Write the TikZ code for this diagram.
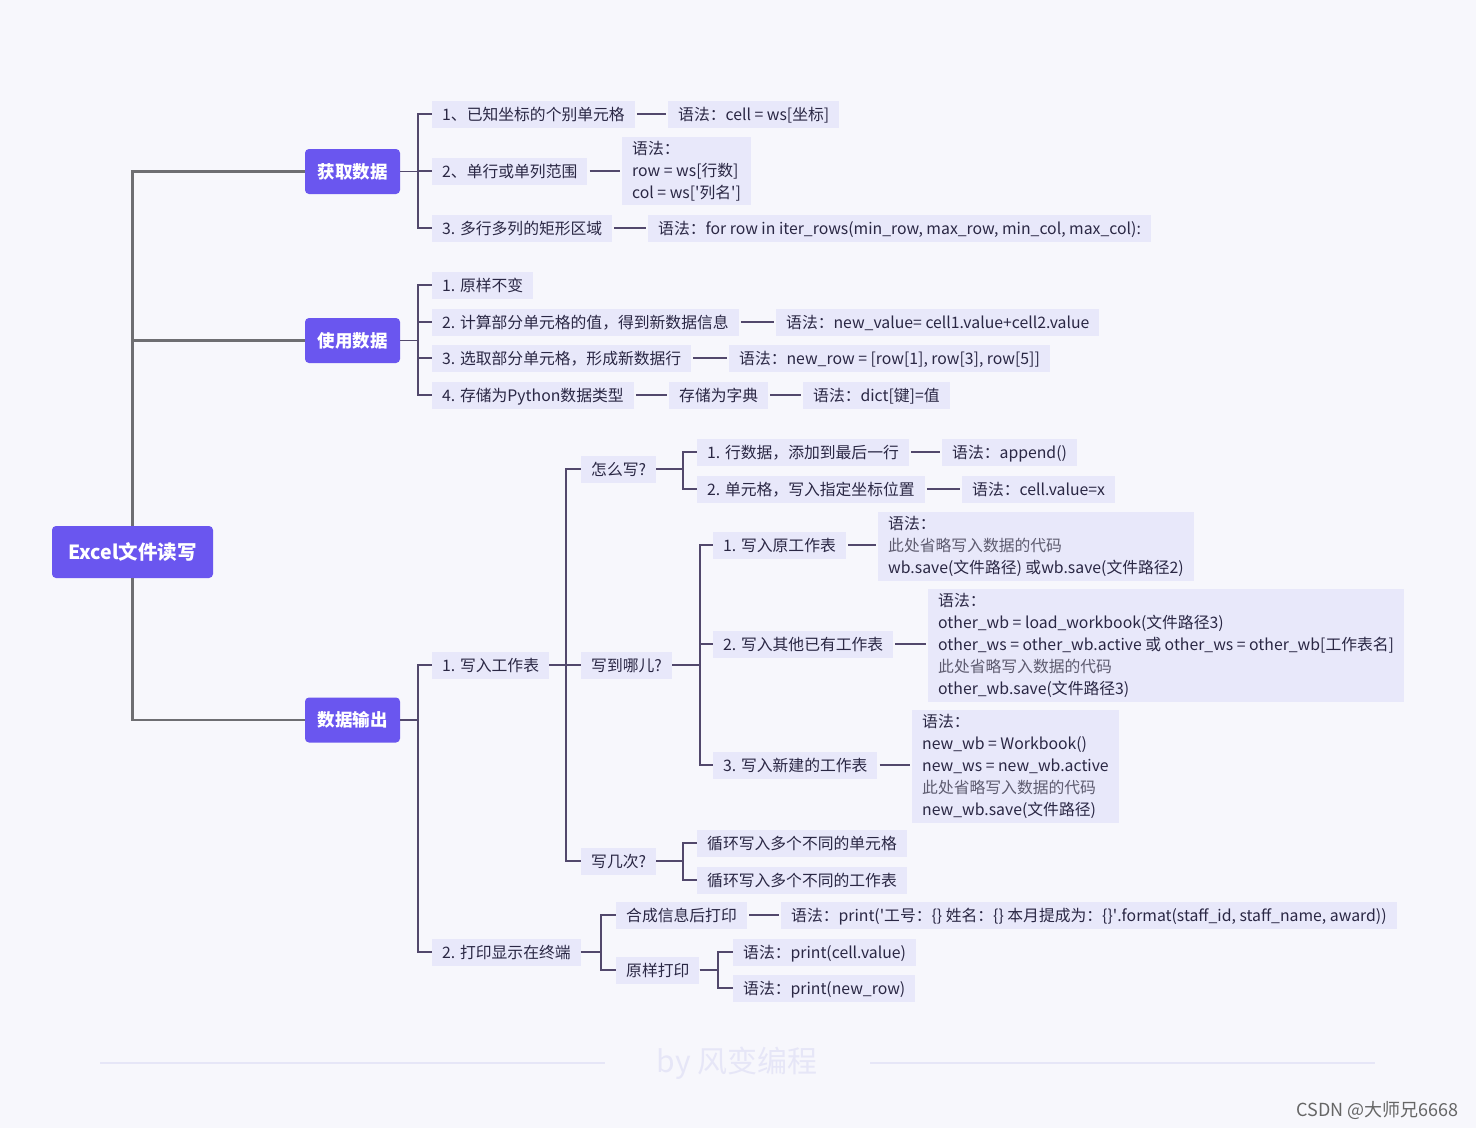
\documentclass[tikz,border=0pt]{standalone}
\usepackage{fontspec}
\setmainfont{Noto Sans CJK SC}
\definecolor{bg}{HTML}{F7F7FC}
\definecolor{leafc}{HTML}{E8E8FA}
\definecolor{purp}{HTML}{6A56EF}
\definecolor{txt}{HTML}{2A2744}
\definecolor{lite}{HTML}{5E5C70}
\definecolor{mainln}{HTML}{6E6E72}
\definecolor{brln}{HTML}{52486C}
\definecolor{wm}{HTML}{E6E6F7}
\definecolor{csdn}{HTML}{666666}
\newcommand\leaffont{\fontsize{15.8}{22}\selectfont}
\newcommand\topicfont{\fontsize{17.5}{22}\selectfont\bfseries}
\newcommand\rootfont{\fontsize{19.5}{24}\selectfont\bfseries}
\newcommand\q{\textquotesingle}
\tikzset{
  leaf/.style={fill=leafc, text=txt, anchor=west, inner xsep=10pt, inner ysep=0pt,
    minimum height=27pt, text height=13.5pt, text depth=0.5pt, font=\leaffont},
  multi/.style={fill=leafc, text=txt, anchor=north west, align=left, inner xsep=10pt,
    inner ysep=4pt, font=\leaffont},
  topic/.style={fill=purp, text=white, rounded corners=4pt, minimum width=95pt,
    minimum height=45pt, inner sep=0pt, font=\topicfont},
  rootbox/.style={fill=purp, text=white, rounded corners=4pt, minimum width=161pt,
    minimum height=52pt, inner sep=0pt, font=\rootfont},
  mainline/.style={draw=mainln, line width=2.4pt},
  br/.style={draw=brln, line width=1.4pt},
  link/.style={draw=brln, line width=1.4pt, shorten <=2pt, shorten >=2pt},
}
\begin{document}
\begin{tikzpicture}[x=1pt,y=-1pt]
\fill[bg] (0,0) rectangle (1476,1128);
\useasboundingbox (0,0) rectangle (1476,1128);

% root and topics
\node[rootbox] (r) at (132.5,552) {Excel文件读写};
\node[topic] (t1) at (352.5,171.5) {获取数据};
\node[topic] (t2) at (352.5,340.5) {使用数据};
\node[topic] (t3) at (352.5,720) {数据输出};
\draw[mainline] (r.north) |- (t1.west);
\draw[mainline] (r.north) |- (t2.west);
\draw[mainline] (r.south) |- (t3.west);

% bracket x positions
\coordinate (bx1) at (418,0);
\coordinate (bxc1) at (566,0);
\coordinate (bxd1) at (683,0);
\coordinate (bxd2) at (700,0);
\coordinate (bxc2) at (601,0);
\coordinate (bxh2) at (718,0);

% 获取数据
\node[leaf] (a1) at (432,114) {1、已知坐标的个别单元格};
\node[leaf] (a1s) at (668,114) {语法：cell = ws[坐标]};
\node[leaf] (a2) at (432,171) {2、单行或单列范围};
\node[multi] (a2s) at (622,137) {语法：\\row = ws[行数]\\col = ws[\q 列名\q]};
\node[leaf] (a3) at (432,228) {3. 多行多列的矩形区域};
\node[leaf] (a3s) at (648,228) {语法：for row in iter\_rows(min\_row, max\_row, min\_col, max\_col):};
\foreach \c in {a1,a2,a3} \draw[br] (t1.east) -- (t1.east -| bx1) |- (\c.west);
\draw[link] (a1.east) -- (a1s.west);
\draw[link] (a2.east) -- (a2.east -| a2s.west);
\draw[link] (a3.east) -- (a3s.west);

% 使用数据
\node[leaf] (b1) at (432,285) {1. 原样不变};
\node[leaf] (b2) at (432,322) {2. 计算部分单元格的值，得到新数据信息};
\node[leaf] (b2s) at (776,322) {语法：new\_value= cell1.value+cell2.value};
\node[leaf] (b3) at (432,358) {3. 选取部分单元格，形成新数据行};
\node[leaf] (b3s) at (729,358) {语法：new\_row = [row[1], row[3], row[5]]};
\node[leaf] (b4) at (432,395) {4. 存储为Python数据类型};
\node[leaf] (b4a) at (669,395) {存储为字典};
\node[leaf] (b4s) at (803,395) {语法：dict[键]=值};
\foreach \c in {b1,b2,b3,b4} \draw[br] (t2.east) -- (t2.east -| bx1) |- (\c.west);
\draw[link] (b2.east) -- (b2s.west);
\draw[link] (b3.east) -- (b3s.west);
\draw[link] (b4.east) -- (b4a.west);
\draw[link] (b4a.east) -- (b4s.west);

% 数据输出
\node[leaf] (c1) at (432,665) {1. 写入工作表};
\node[leaf] (c2) at (432,952) {2. 打印显示在终端};
\foreach \c in {c1,c2} \draw[br] (t3.east) -- (t3.east -| bx1) |- (\c.west);

\node[leaf] (d1) at (581,469) {怎么写?};
\node[leaf] (d2) at (581,665) {写到哪儿?};
\node[leaf] (d3) at (581,861) {写几次?};
\foreach \c in {d1,d2,d3} \draw[br] (c1.east) -- (c1.east -| bxc1) |- (\c.west);

\node[leaf] (e1) at (697,452) {1. 行数据，添加到最后一行};
\node[leaf] (e1s) at (942,452) {语法：append()};
\node[leaf] (e2) at (697,489) {2. 单元格，写入指定坐标位置};
\node[leaf] (e2s) at (962,489) {语法：cell.value=x};
\foreach \c in {e1,e2} \draw[br] (d1.east) -- (d1.east -| bxd1) |- (\c.west);
\draw[link] (e1.east) -- (e1s.west);
\draw[link] (e2.east) -- (e2s.west);

\node[leaf] (f1) at (713,545) {1. 写入原工作表};
\node[multi] (f1s) at (878,512) {语法：\\{\color{lite}此处省略写入数据的代码}\\wb.save(文件路径) 或wb.save(文件路径2)};
\node[leaf] (f2) at (713,644) {2. 写入其他已有工作表};
\node[multi] (f2s) at (928,589) {语法：\\other\_wb = load\_workbook(文件路径3)\\other\_ws = other\_wb.active 或 other\_ws = other\_wb[工作表名]\\{\color{lite}此处省略写入数据的代码}\\other\_wb.save(文件路径3)};
\node[leaf] (f3) at (713,765) {3. 写入新建的工作表};
\node[multi] (f3s) at (912,710) {语法：\\new\_wb = Workbook()\\new\_ws = new\_wb.active\\{\color{lite}此处省略写入数据的代码}\\new\_wb.save(文件路径)};
\foreach \c in {f1,f2,f3} \draw[br] (d2.east) -- (d2.east -| bxd2) |- (\c.west);
\draw[link] (f1.east) -- (f1.east -| f1s.west);
\draw[link] (f2.east) -- (f2.east -| f2s.west);
\draw[link] (f3.east) -- (f3.east -| f3s.west);

\node[leaf] (g1) at (697,843) {循环写入多个不同的单元格};
\node[leaf] (g2) at (697,880) {循环写入多个不同的工作表};
\foreach \c in {g1,g2} \draw[br] (d3.east) -- (d3.east -| bxd1) |- (\c.west);

\node[leaf] (h1) at (616,915) {合成信息后打印};
\node[leaf] (h1s) at (781,915) {语法：print(\q 工号：\{\} 姓名：\{\} 本月提成为：\{\}\q.format(staff\_id, staff\_name, award))};
\node[leaf] (h2) at (616,970) {原样打印};
\node[leaf] (h2a) at (733,952) {语法：print(cell.value)};
\node[leaf] (h2b) at (733,988) {语法：print(new\_row)};
\foreach \c in {h1,h2} \draw[br] (c2.east) -- (c2.east -| bxc2) |- (\c.west);
\draw[link] (h1.east) -- (h1s.west);
\foreach \c in {h2a,h2b} \draw[br] (h2.east) -- (h2.east -| bxh2) |- (\c.west);

% footer
\node[text=wm, font=\fontsize{30}{34}\selectfont] (wmk) at (737,1063) {by 风变编程};
\coordinate (fl1) at (100,1063);
\coordinate (fr1) at (1375,1063);
\draw[draw=wm, line width=2pt] (fl1) -- (605,1063);
\draw[draw=wm, line width=2pt] (870,1063) -- (fr1);
\node[text=csdn, anchor=east, font=\fontsize{18}{20}\selectfont] (cs) at (1462,1110) {CSDN @大师兄6668};
\end{tikzpicture}
\end{document}
